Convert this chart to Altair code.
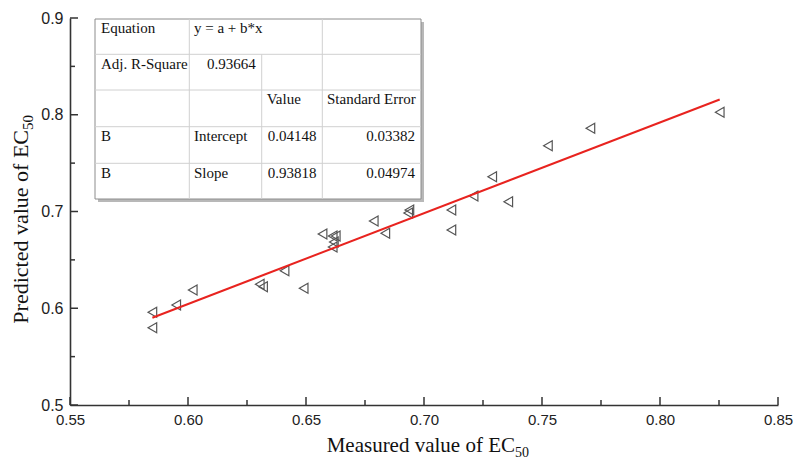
import altair as alt
import pandas as pd

# ---- data ----
measured = [0.5849, 0.5849, 0.5950, 0.6020, 0.6304, 0.6318, 0.6409, 0.6490,
            0.6570, 0.6613, 0.6626, 0.6618, 0.6613, 0.6787, 0.6836, 0.6938,
            0.6933, 0.7116, 0.7116, 0.7210, 0.7289, 0.7357, 0.7525, 0.7705,
            0.8253]
predicted = [0.5958, 0.5799, 0.6034, 0.6189, 0.6248, 0.6223, 0.6388, 0.6206,
             0.6767, 0.6747, 0.6747, 0.6685, 0.6633, 0.6902, 0.6775, 0.7016,
             0.6984, 0.7016, 0.6809, 0.7160, 0.7360, 0.7101, 0.7680, 0.7860,
             0.8025]

fit_intercept = 0.04148
fit_slope = 0.93818
intercept_se = 0.03382
slope_se = 0.04974
adj_r2 = 0.93664

x_major = [0.55, 0.60, 0.65, 0.70, 0.75, 0.80, 0.85]
x_minor = [0.575, 0.625, 0.675, 0.725, 0.775, 0.825]
y_major = [0.5, 0.6, 0.7, 0.8, 0.9]
y_minor = [0.55, 0.65, 0.75, 0.85]

PAD_L, PAD_T, PAD_R, PAD_B = 62, 10, 15, 57
W, H = 708, 387
OX = PAD_L + 8          # page x of the plot's left edge (for annotations)
SERIF = "Liberation Serif"
SANS = "Liberation Sans"
AXIS_COLOR = "#333333"

xs = alt.Scale(domain=[0.55, 0.85], nice=False, zero=False)
ys = alt.Scale(domain=[0.5, 0.9], nice=False, zero=False)

pts = pd.DataFrame({"measured": measured, "predicted": predicted})
one = pd.DataFrame({"k": [0]})

x_axis = alt.Axis(values=x_major, format=".2f", labelFont=SANS, labelFontSize=15,
                  labelColor="#222222", ticks=False, domainColor=AXIS_COLOR,
                  domainWidth=1.6, labelPadding=7, labelFlush=False,
                  labelOverlap=False, grid=False, title=None)
y_axis = alt.Axis(values=y_major, format=".1f", labelFont=SANS, labelFontSize=16,
                  labelColor="#222222", ticks=False, domainColor=AXIS_COLOR,
                  domainWidth=1.6, labelPadding=7, labelFlush=False,
                  labelOverlap=False, grid=False, title=None)

points = alt.Chart(pts).mark_point(
    shape="triangle-left", filled=False, stroke="#555555", strokeWidth=1.2,
    size=100, opacity=1
).encode(
    x=alt.X("measured:Q", scale=xs, axis=x_axis),
    y=alt.Y("predicted:Q", scale=ys, axis=y_axis),
)

xmin, xmax = min(measured), max(measured)
fit_df = pd.DataFrame({
    "measured": [xmin, xmax],
    "predicted": [fit_intercept + fit_slope * xmin, fit_intercept + fit_slope * xmax],
})
fit = alt.Chart(fit_df).mark_line(color="#e8231f", strokeWidth=2).encode(
    x=alt.X("measured:Q", scale=xs, axis=x_axis),
    y=alt.Y("predicted:Q", scale=ys, axis=y_axis),
)


def xticks(vals, length):
    return alt.Chart(pd.DataFrame({"measured": vals})).mark_rule(
        color=AXIS_COLOR, strokeWidth=1.5
    ).encode(
        x=alt.X("measured:Q", scale=xs, axis=x_axis),
        y=alt.value(H), y2=alt.value(H - length),
    )


def yticks(vals, length):
    return alt.Chart(pd.DataFrame({"predicted": vals})).mark_rule(
        color=AXIS_COLOR, strokeWidth=1.5
    ).encode(
        y=alt.Y("predicted:Q", scale=ys, axis=y_axis),
        x=alt.value(0), x2=alt.value(length),
    )


ticks = [xticks(x_major, 8), xticks(x_minor, 5), yticks(y_major, 8), yticks(y_minor, 5)]


# ---- fit-statistics table (annotation), page-x positions shifted to plot ----
def px(page_x):
    return page_x - OX


TL, TR, TT, TB = px(95), px(421), 1, 181
rows_y = [36.3, 72, 108.7, 145.3]
col_full = [px(189.3), px(322.3)]
col_partial = px(261.7)

shadow = alt.Chart(one).mark_rect(fill="#9a9a9a", opacity=0.7).encode(
    x=alt.value(TL + 3), x2=alt.value(TR + 3), y=alt.value(TT + 3), y2=alt.value(TB + 3))
box = alt.Chart(one).mark_rect(fill="white", stroke="#8c8c8c", strokeWidth=1).encode(
    x=alt.value(TL), x2=alt.value(TR), y=alt.value(TT), y2=alt.value(TB))

lines = []
for ry in rows_y:
    lines.append(alt.Chart(one).mark_rule(color="#d0d0d0", strokeWidth=1).encode(
        x=alt.value(TL), x2=alt.value(TR), y=alt.value(ry)))
for cx in col_full:
    lines.append(alt.Chart(one).mark_rule(color="#d0d0d0", strokeWidth=1).encode(
        x=alt.value(cx), y=alt.value(TT), y2=alt.value(TB)))
lines.append(alt.Chart(one).mark_rule(color="#d0d0d0", strokeWidth=1).encode(
    x=alt.value(col_partial), y=alt.value(rows_y[0]), y2=alt.value(TB)))


def txt(s, x, y, align="left", size=15, font=SERIF, baseline="middle", angle=0):
    kw = dict(text=s, align=align, baseline=baseline, font=font, fontSize=size,
              color="#111111")
    if angle:
        kw["angle"] = angle
    return alt.Chart(one).mark_text(**kw).encode(x=alt.value(x), y=alt.value(y))


ry_c = [10, 46, 81, 118, 154.7]
cells = [
    txt("Equation", px(101), ry_c[0]),
    txt("y = a + b*x", px(194), ry_c[0]),
    txt("Adj. R-Square", px(101), ry_c[1]),
    txt(f"{adj_r2:.5f}", px(207), ry_c[1]),
    txt("Value", px(266.7), ry_c[2]),
    txt("Standard Error", px(327), ry_c[2]),
    txt("B", px(101), ry_c[3]),
    txt("Intercept", px(194), ry_c[3]),
    txt(f"{fit_intercept:.5f}", px(267.7), ry_c[3]),
    txt(f"{intercept_se:.5f}", px(415), ry_c[3], align="right"),
    txt("B", px(101), ry_c[4]),
    txt("Slope", px(194), ry_c[4]),
    txt(f"{fit_slope:.5f}", px(267.7), ry_c[4]),
    txt(f"{slope_se:.5f}", px(415), ry_c[4], align="right"),
]

# ---- axis titles with subscripts ----
titles = [
    txt("Measured value of EC", px(515), 434, align="right", size=21, baseline="alphabetic"),
    txt("50", px(515), 439, align="left", size=14, baseline="alphabetic"),
    txt("Predicted value of EC", px(28), 112, align="right", size=22,
        baseline="alphabetic", angle=270),
    txt("50", px(33), 112, align="left", size=15, baseline="alphabetic", angle=270),
]

chart = alt.layer(
    points, fit, *ticks, shadow, box, *lines, *cells, *titles
).properties(
    width=W, height=H,
    autosize=alt.AutoSizeParams(type="none"),
    padding={"left": PAD_L, "top": PAD_T, "right": PAD_R, "bottom": PAD_B},
    background="white",
).configure_view(stroke=None)

chart.save("out.html", embed_options={"renderer": "svg", "actions": False})
